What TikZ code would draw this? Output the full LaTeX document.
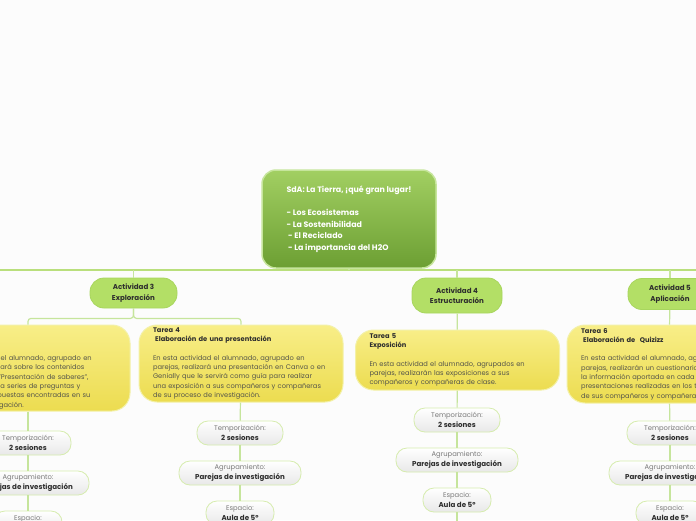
\documentclass[tikz,border=0pt]{standalone}
\usepackage{fontspec}
\setmainfont{Poppins}
\usetikzlibrary{positioning,calc}
\definecolor{paper}{HTML}{FCFCFC}
\definecolor{roottop}{HTML}{A2CF62}
\definecolor{rootbot}{HTML}{6C9F33}
\definecolor{rootedge}{HTML}{C6E59C}
\definecolor{actfill}{HTML}{B3DF66}
\definecolor{actedge}{HTML}{A8D65E}
\definecolor{yeltop}{HTML}{F8EE88}
\definecolor{yelbot}{HTML}{ECDC50}
\definecolor{yeledge}{HTML}{F3F1A8}
\definecolor{celledge}{HTML}{D6ECAE}
\definecolor{wire}{HTML}{C6E59C}
\definecolor{trunkc}{HTML}{B9DF7C}
\definecolor{inktxt}{HTML}{2E2E2E}
\definecolor{bodytxt}{HTML}{55554A}
\definecolor{labtxt}{HTML}{7A7A7A}
\tikzset{
  sda/.style={rectangle,rounded corners=14pt,draw=rootedge,line width=1.5pt,top color=roottop,bottom color=rootbot,text=white,font=\bfseries\fontsize{7.9}{11.7}\selectfont,align=left,minimum width=174pt,minimum height=98pt},
  act/.style={rectangle,rounded corners=14pt,draw=actedge,line width=.8pt,fill=actfill,text=inktxt,font=\bfseries\fontsize{7.1}{10.5}\selectfont,align=center,minimum height=30pt},
  tarea/.style={rectangle,rounded corners=18pt,draw=yeledge,line width=1pt,top color=yeltop,bottom color=yelbot,text=bodytxt,font=\fontsize{6.7}{9.3}\selectfont,align=left,text width=176pt,inner xsep=14pt,inner ysep=0pt},
  cell/.style={rectangle,rounded corners=11pt,draw=celledge,line width=.8pt,top color=white,bottom color=black!9,text=labtxt,font=\fontsize{6.8}{9.5}\selectfont,align=center,minimum height=24pt,inner xsep=4pt,inner ysep=0pt},
  branch/.style={draw=wire,line width=1.2pt},
  trunk/.style={draw=trunkc,line width=2.5pt}
}
\newcommand{\val}[1]{{\color{inktxt}\bfseries\fontsize{7.1}{9.5}\selectfont #1}}
\newcommand{\tareattl}[1]{{\color{inktxt}\bfseries #1}}
\begin{document}
\begin{tikzpicture}[x=1pt,y=-1pt]
  \useasboundingbox (0,0) rectangle (696,520);
  \fill[paper] (0,0) rectangle (696,520);
  \clip (0,0) rectangle (696,520);

  \node[sda] (root) at (349,219) {SdA: La Tierra, ¡qué gran lugar!\\[11.7pt]
    - Los Ecosistemas\\- La Sostenibilidad\\\ - El Reciclado\\\ - La importancia del H2O};

  \coordinate (busL) at (-10,270);
  \coordinate (busR) at (710,270);
  \draw[trunk] (busL) -- (busR);
  \draw[branch] (root.south) -- (root.south |- busL);

  \node[act,minimum width=87pt] (a3) at (133.5,293) {Actividad 3\\Exploración};
  \node[act,minimum width=90pt,minimum height=35pt] (a4) at (457,295.5) {Actividad 4\\Estructuración};
  \node[act,minimum width=84pt,minimum height=31pt] (a5) at (670,294) {Actividad 5\\Aplicación};
  \foreach \a in {a3,a4,a5}
    \draw[branch] (\a.north |- busL) -- (\a.north);

  \node[tarea,minimum height=86pt] (t3) at (28,368) {~\\~\\[15pt]
    En esta actividad el alumnado, agrupado en\\
    parejas, profundizará sobre los contenidos\\
    trabajados en la "Presentación de saberes",\\
    contestando a una series de preguntas y\\
    anotando las respuestas encontradas en su\\
    trabajo de investigación.};
  \node[tarea,minimum height=77pt] (t4) at (241,363.5) {\tareattl{Tarea 4}\\
    \tareattl{\ Elaboración de una presentación}\\[9.3pt]
    En esta actividad el alumnado, agrupado en\\
    parejas, realizará una presentación en Canva o en\\
    Genially que le servirá como guía para realizar\\
    una exposición a sus compañeros y compañeras\\
    de su proceso de investigación.};
  \node[tarea,minimum height=60pt] (t5) at (457.5,360) {\tareattl{Tarea 5}\\
    \tareattl{Exposición}\\[9.3pt]
    En esta actividad el alumnado, agrupados en\\
    parejas, realizarán las exposiciones a sus\\
    compañeros y compañeras de clase.};
  \node[tarea,minimum height=78pt] (t6) at (669,364) {\tareattl{Tarea 6}\\
    \tareattl{\ Elaboración de\ \ Quizizz}\\[9.3pt]
    En esta actividad el alumnado, agrupados en\\
    parejas, realizarán un cuestionario con\\
    la información aportada en cada una de las\\
    presentaciones realizadas en los trabajos\\
    de sus compañeros y compañeras.};

  \draw[branch,rounded corners=3pt] (a3.south) -- ++(0,10) -| (t3.north);
  \draw[branch,rounded corners=3pt] (a3.south) -- ++(0,10) -| (t4.north);
  \draw[branch] (a4) -- (t5);
  \draw[branch] (a5) -- (t6);

  % temporizacion / agrupamiento / espacio
  \foreach \c/\x/\y in {3/28/443,4/240/433,5/457/420,6/670/433}{
    \node[cell,minimum width=86pt] (tm\c) at (\x,\y) {Temporización:\\\val{2 sesiones}};
    \node[cell,minimum width=122pt] (ag\c) at (\x,\y+40) {Agrupamiento:\\\val{Parejas de investigación}};
    \node[cell,minimum width=68pt] (es\c) at (\x,\y+80) {Espacio:\\\val{Aula de 5º}};
    \draw[branch] (t\c) -- (tm\c);
    \draw[branch] (tm\c) -- (ag\c);
    \draw[branch] (ag\c) -- (es\c);
  }
  \coordinate (nx5) at (457,540);
  \draw[branch] (es5) -- (nx5);
\end{tikzpicture}
\end{document}
